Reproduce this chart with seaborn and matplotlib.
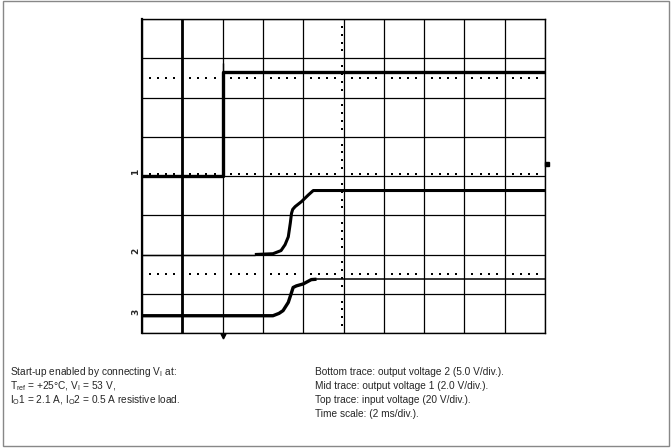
import numpy as np
import pandas as pd
import matplotlib
matplotlib.use("Agg")
import matplotlib.pyplot as plt
from matplotlib.patches import Rectangle
import seaborn as sns

sns.set_style("white")
plt.rcParams['font.family'] = ['Liberation Sans Narrow', 'Liberation Sans', 'DejaVu Sans']

# ---- data (in screen divisions: x 0..10, y 0..8) ----
top_x = [0, 2, 2, 10]
top_y = [4.0, 4.0, 6.64, 6.64]
spike_x = [2, 2]
spike_y = [6.64, 6.88]

mid_base_x = [0, 2.8]
mid_base_y = [2.0, 2.0]
mid_x = [2.8, 3.25, 3.45, 3.55, 3.63, 3.68, 3.71, 3.74, 3.8, 3.96, 4.13, 4.25, 10]
mid_y = [2.0, 2.02, 2.1, 2.25, 2.45, 2.8, 3.05, 3.15, 3.22, 3.35, 3.52, 3.63, 3.63]

bot_x = [0, 3.25, 3.4, 3.5, 3.63, 3.71, 3.75, 3.83, 4.0, 4.2, 4.33]
bot_y = [0.44, 0.44, 0.5, 0.57, 0.78, 1.03, 1.16, 1.2, 1.25, 1.36, 1.37]
bot_tail_x = [4.33, 10]
bot_tail_y = [1.37, 1.37]

cursor_x = 1.0
ref_levels = [6.5, 1.5]
ch_levels = [4.0, 2.0, 0.44]
ch_labels = ["1", "2", "3"]
trig_level = 4.3
trig_time = 2.0

left_caption = ["Start-up enabled by connecting V$_\\mathregular{I}$ at:",
                "T$_\\mathregular{ref}$ = +25°C, V$_\\mathregular{I}$ = 53 V,",
                "I$_\\mathregular{O}$1 = 2.1 A, I$_\\mathregular{O}$2 = 0.5 A resistive load."]
right_caption = ["Bottom trace: output voltage 2 (5.0 V/div.).",
                 "Mid trace: output voltage 1 (2.0 V/div.).",
                 "Top trace: input voltage (20 V/div.).",
                 "Time scale: (2 ms/div.)."]

W, H = 671, 448
fig = plt.figure(figsize=(W / 100, H / 100), dpi=100)
ax = fig.add_axes([142 / W, 1 - 333 / H, 403 / W, 314 / H])
ax.set_xlim(0, 10)
ax.set_ylim(0, 8)
ax.set_xticks(range(11))
ax.set_yticks(range(9))
ax.set_xticklabels([])
ax.set_yticklabels([])
ax.tick_params(length=0)
ax.grid(True, color="black", lw=0.9)
for s in ax.spines.values():
    s.set_color("black")
    s.set_linewidth(1.0)
ax.spines["left"].set_linewidth(1.6)

# graticule dotted lines and centre-line ticks
dots_x = np.array([k + f for k in range(10) for f in (0.2, 0.4, 0.6, 0.8)])
for lv in ref_levels + [4.04]:
    ax.scatter(dots_x, np.full_like(dots_x, lv), s=1.4, color="black", marker="s", lw=0, zorder=3)
dots_y = np.array([k + f for k in range(8) for f in (0.2, 0.4, 0.6, 0.8)])
ax.scatter(np.full_like(dots_y, 4.97), dots_y, s=1.4, color="black", marker="s", lw=0, zorder=3)

# cursor line
ax.axvline(cursor_x, color="black", lw=2.0, zorder=4)

def trace(x, y, lw):
    df = pd.DataFrame({"t": x, "v": y})
    sns.lineplot(data=df, x="t", y="v", sort=False, estimator=None, color="black",
                 lw=lw, ax=ax, zorder=5, solid_capstyle="butt")

trace(top_x, top_y, 2.4)
trace(spike_x, spike_y, 1.0)
trace(mid_base_x, mid_base_y, 1.0)
trace(mid_x, mid_y, 2.2)
trace(bot_x, bot_y, 2.4)
trace(bot_tail_x, bot_tail_y, 1.1)
ax.set_xlabel("")
ax.set_ylabel("")

# channel markers
for lv, lab in zip(ch_levels, ch_labels):
    ax.text(-0.04, lv + 0.1, lab, rotation=90, ha="right", va="center", fontsize=6.5,
            fontweight="bold", family="DejaVu Sans", transform=ax.transData, clip_on=False)
ax.plot([10.04], [trig_level], marker="s", ms=3.5, color="black", clip_on=False)
ax.plot([trig_time], [-0.07], marker="v", ms=3.5, color="black", clip_on=False)

# outer border
fig.add_artist(Rectangle((3 / W, 1 - 446 / H), 666 / W, 445 / H, transform=fig.transFigure,
                         fill=False, ec="#888888", lw=1.0))

# captions
for i, t in enumerate(left_caption):
    fig.text(10 / W, 1 - (372 + 14 * i) / H, t, fontsize=7.3, va="center", ha="left")
for i, t in enumerate(right_caption):
    fig.text(315 / W, 1 - (372 + 14 * i) / H, t, fontsize=7.3, va="center", ha="left")

fig.savefig("out.png", dpi=100)
